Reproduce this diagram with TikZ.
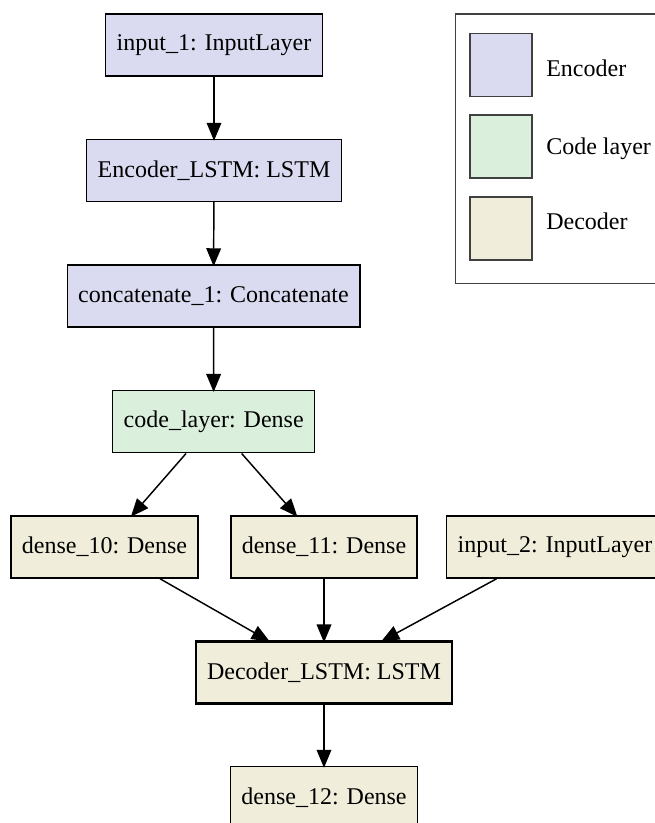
\documentclass[tikz,border=0pt]{standalone}
\usepackage{fontspec}
\setmainfont{Liberation Serif}
\usetikzlibrary{arrows.meta}

\newcommand*\pxunit{0.75pt}
\definecolor{enccol}{RGB}{218,219,240}
\definecolor{codecol}{RGB}{218,240,220}
\definecolor{deccol}{RGB}{240,238,218}

\tikzset{layer/.style={
    draw,
    line width=1.1pt,
    rectangle,
    fill=#1,
    inner xsep=8.25pt,
    inner ysep=0pt,
    minimum height=46.5pt,
    font=\fontsize{18}{21.6}\selectfont,
    anchor=center
}}
\tikzset{flow/.style={
    -{Triangle[length=13.5pt,width=11pt]},
    line width=1.1pt,
    shorten >=-1.5pt
}}
\tikzset{swatch/.style={
    draw=black!75,
    line width=0.8pt,
    fill=#1,
    rectangle,
    minimum width=46.5pt,
    minimum height=47.25pt,
    inner sep=0pt
}}

\begin{document}
\begin{tikzpicture}[x=\pxunit,y=-\pxunit]

    % Fix the page to the size of the picture.
    \useasboundingbox (0,0) rectangle (655,823);
    \clip (0,0) rectangle (655,823);

    % Encoder layers.
    \node[layer=enccol] (input1) at (214,45) {input\_1: InputLayer};
    \node[layer=enccol] (enclstm) at (214,170.5) {Encoder\_LSTM: LSTM};
    \node[layer=enccol] (concat1) at (213.5,296) {concatenate\_1: Concatenate};

    % Code layer.
    \node[layer=codecol] (codelayer) at (213.7,421.7) {code\_layer: Dense};

    % Decoder layers.
    \node[layer=deccol] (dense10) at (104.5,547) {dense\_10: Dense};
    \node[layer=deccol] (dense11) at (324,547) {dense\_11: Dense};
    \node[layer=deccol] (input2) at (555,547) {input\_2: InputLayer};
    \node[layer=deccol,line width=1.6pt] (declstm) at (324,672.5) {Decoder\_LSTM: LSTM};
    \node[layer=deccol] (dense12) at (324,797.5) {dense\_12: Dense};

    % Draw the connections.
    \draw[flow] (input1) -- (enclstm);
    \draw[flow] (enclstm) -- (concat1);
    \draw[flow] (concat1) -- (codelayer);
    \draw[flow] (codelayer) -- (dense10);
    \draw[flow] (codelayer) -- (dense11);
    \draw[flow] (dense10) -- (declstm);
    \draw[flow] (dense11) -- (declstm);
    \draw[flow] (input2) -- (declstm);
    \draw[flow] (declstm) -- (dense12);

    % Legend.
    \draw[draw=black!75,line width=0.8pt] (455.7,14) rectangle (665,283.5);
    \foreach \name/\col/\y/\ty/\txt in {enc/enccol/65/76.7/Encoder,
                                        code/codecol/146.5/155/Code layer,
                                        dec/deccol/228.5/230/Decoder}
    {
        \node[swatch=\col] (key\name) at (501,\y) {};
        \node[anchor=base west,inner sep=0pt,font=\fontsize{18}{21.6}\selectfont] (keytxt\name) at (546,\ty) {\txt};
    }

\end{tikzpicture}
\end{document}
